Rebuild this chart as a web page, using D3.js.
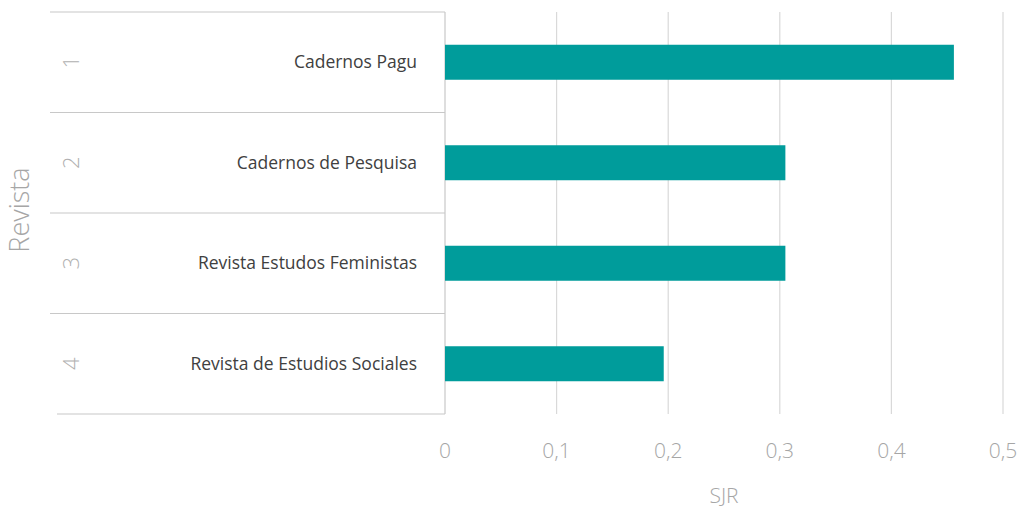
<!DOCTYPE html>
<html>
<head>
<meta charset="utf-8">
<script src="https://cdn.jsdelivr.net/npm/d3@7"></script>
<style>
  body { margin: 0; background: #fff; }
  text { font-family: "Open Sans", "Noto Sans", sans-serif; }
</style>
</head>
<body>
<div class="chart"></div>
<script>
// data
var ranks = ["1", "2", "3", "4"];
var journals = ["Cadernos Pagu", "Cadernos de Pesquisa", "Revista Estudos Feministas", "Revista de Estudios Sociales"];
var sjr = [0.456, 0.305, 0.305, 0.196];
var xTicks = [0, 0.1, 0.2, 0.3, 0.4, 0.5];

var svgWidth = 1025;
var svgHeight = 512;

var svg = d3.select(".chart")
  .append("svg")
  .attr("width", svgWidth)
  .attr("height", svgHeight);

var rows = ranks.map(function (r, i) {
  return { rank: r, name: journals[i], value: sjr[i] };
});

var x = d3.scaleLinear()
  .domain([0, 0.5])
  .range([445, 1003]);

var y = d3.scaleBand()
  .domain(ranks)
  .range([12, 414]);

// vertical gridlines
svg.append("g").selectAll("line")
  .data(xTicks.slice(1))
  .enter()
  .append("line")
  .attr("x1", d => x(d)).attr("x2", d => x(d))
  .attr("y1", 12).attr("y2", 414)
  .attr("stroke", "#d9d9d9")
  .attr("stroke-width", 1.2);

// table lines of the category axis
var bounds = ranks.map(d => y(d)).concat([y.range()[1]]);
svg.append("g").selectAll("line")
  .data(bounds)
  .enter()
  .append("line")
  .attr("x1", (d, i) => i == bounds.length - 1 ? 57 : 50)
  .attr("x2", 445)
  .attr("y1", d => d).attr("y2", d => d)
  .attr("stroke", "#c8c8c8")
  .attr("stroke-width", 1.2);

svg.append("line")
  .attr("x1", x(0)).attr("x2", x(0))
  .attr("y1", 12).attr("y2", 414)
  .attr("stroke", "#c8c8c8")
  .attr("stroke-width", 1.2);

// bars
var barH = 35;
svg.append("g").selectAll("rect")
  .data(rows)
  .enter()
  .append("rect")
  .attr("x", x(0))
  .attr("y", d => y(d.rank) + y.bandwidth() / 2 - barH / 2)
  .attr("width", d => x(d.value) - x(0))
  .attr("height", barH)
  .attr("fill", "#009c9b");

// journal names
svg.append("g").selectAll("text")
  .data(rows)
  .enter()
  .append("text")
  .attr("x", 417)
  .attr("y", d => y(d.rank) + y.bandwidth() / 2)
  .attr("dy", "0.35em")
  .attr("text-anchor", "end")
  .attr("font-size", "17.5px")
  .attr("fill", "#404040")
  .text(d => d.name);

// rank numbers, rotated
svg.append("g").selectAll("text")
  .data(rows)
  .enter()
  .append("text")
  .attr("transform", d => `translate(71, ${y(d.rank) + y.bandwidth() / 2}) rotate(-90)`)
  .attr("dy", "0.35em")
  .attr("text-anchor", "middle")
  .attr("font-size", "22px")
  .attr("font-weight", 300)
  .attr("fill", "#b0b0b0")
  .text(d => d.rank);

// x tick labels
svg.append("g").selectAll("text")
  .data(xTicks)
  .enter()
  .append("text")
  .attr("x", d => x(d))
  .attr("y", 451)
  .attr("dy", "0.35em")
  .attr("text-anchor", "middle")
  .attr("font-size", "21px")
  .attr("font-weight", 300)
  .attr("fill", "#a6a6a6")
  .text(d => d3.format(".1~f")(d).replace(".", ","));

// axis titles
svg.append("text")
  .attr("x", (x(0) + x(0.5)) / 2)
  .attr("y", 496)
  .attr("dy", "0.35em")
  .attr("text-anchor", "middle")
  .attr("font-size", "21px")
  .attr("font-weight", 300)
  .attr("fill", "#a6a6a6")
  .text("SJR");

svg.append("text")
  .attr("transform", "translate(20, 210) rotate(-90)")
  .attr("dy", "0.35em")
  .attr("text-anchor", "middle")
  .attr("font-size", "27px")
  .attr("font-weight", 300)
  .attr("fill", "#a6a6a6")
  .text("Revista");
</script>
</body>
</html>
